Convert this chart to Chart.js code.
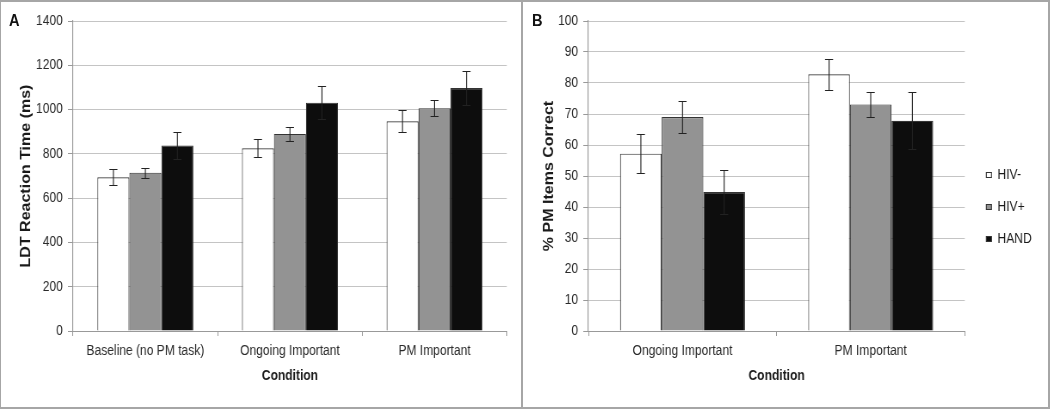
<!DOCTYPE html>
<html lang="en">
<head>
<meta charset="UTF-8">
<title>LDT reaction time and PM accuracy</title>
<script src="https://cdn.jsdelivr.net/npm/chart.js"></script>
<style>
  body { margin: 0; background: #fff; }
  #wrap { position: relative; width: 1050px; height: 409px; overflow: hidden; background: #fff; }
  /* charts are drawn wider and squeezed to the narrow look of the original */
  canvas { position: absolute; top: 0; }
  #cA { left: 0; }
  #cB { left: 523px; }
  .frame { position: absolute; left: 0; top: 0; width: 1050px; height: 409px; border: 2px solid #a6a6a6; border-left-width: 1px; box-sizing: border-box; pointer-events: none; }
  .divider { position: absolute; left: 521px; top: 0; width: 2px; height: 409px; background: #a6a6a6; }
  .tag { position: absolute; top: 10.5px; line-height: 17px; font: bold 17px "Liberation Sans", Arial, sans-serif; color: #111; transform: scaleX(0.86); transform-origin: left top; }
</style>
</head>
<body>
<div id="wrap">
  <canvas id="cA" width="606" height="409" style="width:521px;height:409px"></canvas>
  <canvas id="cB" width="610" height="409" style="width:525px;height:409px"></canvas>
  <div class="tag" style="left:9px">A</div>
  <div class="tag" style="left:532px">B</div>
  <div class="divider"></div>
  <div class="frame"></div>
</div>

<script>
  // panel A: LDT reaction time (ms)
  const conditionsA = ['Baseline (no PM task)', 'Ongoing Important', 'PM Important'];
  const hivNegA = [694, 825, 947];
  const hivNegErrA = [36, 40, 49];
  const hivPosA = [715, 890, 1006];
  const hivPosErrA = [22, 30, 36];
  const handA = [838, 1031, 1097];
  const handErrA = [61, 75, 78];

  // panel B: % PM items correct
  const conditionsB = ['Ongoing Important', 'PM Important'];
  const hivNegB = [57.2, 82.8];
  const hivNegErrB = [6.2, 5.1];
  const hivPosB = [69.0, 73.1];
  const hivPosErrB = [5.2, 4.1];
  const handB = [44.8, 67.8];
  const handErrB = [7.0, 9.2];

  const groups = ['HIV-', 'HIV+', 'HAND'];
  const fills = ['#ffffff', '#939393', '#0d0d0d'];

  const sans = '"Liberation Sans", Arial, sans-serif';

  // error bars drawn from the y scale
  const errorBars = {
    id: 'errorBars',
    afterDatasetsDraw(chart) {
      const { ctx } = chart;
      const y = chart.scales.y;
      ctx.save();
      ctx.strokeStyle = '#222';
      ctx.lineWidth = 1.1;
      chart.data.datasets.forEach((ds, i) => {
        const meta = chart.getDatasetMeta(i);
        meta.data.forEach((bar, j) => {
          const v = ds.data[j], e = ds.errors[j];
          const top = Math.round(y.getPixelForValue(v + e)) + 0.5;
          const bot = Math.round(y.getPixelForValue(v - e)) + 0.5;
          const x = bar.x;
          ctx.beginPath();
          ctx.moveTo(x, top); ctx.lineTo(x, bot);
          ctx.moveTo(x - 4.7, top); ctx.lineTo(x + 4.7, top);
          ctx.moveTo(x - 4.7, bot); ctx.lineTo(x + 4.7, bot);
          ctx.stroke();
        });
      });
      ctx.restore();
    }
  };

  function makeDatasets(values, errors) {
    return values.map((vals, i) => ({
      label: groups[i],
      data: vals,
      errors: errors[i],
      backgroundColor: fills[i],
      borderColor: '#333',
      borderWidth: 1.1,
      barPercentage: 1,
      categoryPercentage: 0.664
    }));
  }

  function makeOptions(cfg) {
    const scales = {
      x: {
        offset: true,
        afterFit(scale) { scale.height = cfg.xHeight; },
        grid: { display: true, offset: true, drawOnChartArea: false, drawTicks: true, tickLength: 5, tickColor: '#999' },
        border: { display: true, color: '#999', width: 1 },
        ticks: { color: '#2a2a2a', padding: 6.6, maxRotation: 0, autoSkip: false, font: { family: sans, size: 14 } },
        title: {
          display: true, text: 'Condition', color: '#1a1a1a',
          font: { family: sans, size: 14, weight: 'bold' },
          padding: { top: 0, bottom: cfg.xTitlePad }
        }
      },
      y: {
        min: 0, max: cfg.yMax,
        afterFit(scale) { scale.width = cfg.yWidth; },
        grid: { color: '#c4c4c4', tickLength: 6, tickColor: '#999' },
        border: { display: true, color: '#999', width: 1.1 },
        ticks: { stepSize: cfg.step, color: '#2a2a2a', padding: 6, font: { family: sans, size: 14 }, callback: v => String(v) },
        title: {
          display: true, text: cfg.yTitle, color: '#1a1a1a',
          font: { family: sans, size: 16, weight: 'bold' },
          padding: { top: cfg.yTitlePad, bottom: 0 }
        }
      }
    };
    if (cfg.legendGap) {
      // empty right-hand axis, only used as a gap before the legend
      scales.gap = {
        type: 'linear', position: 'right',
        afterFit(scale) { scale.width = cfg.legendGap; },
        grid: { display: false },
        border: { display: false },
        ticks: { display: false }
      };
    }
    return {
      responsive: false,
      animation: false,
      layout: { padding: cfg.padding },
      plugins: {
        legend: cfg.legend,
        tooltip: { enabled: false }
      },
      scales
    };
  }

  new Chart(document.getElementById('cA'), {
    type: 'bar',
    data: {
      labels: conditionsA,
      datasets: makeDatasets([hivNegA, hivPosA, handA], [hivNegErrA, hivPosErrA, handErrA])
    },
    options: makeOptions({
      padding: { top: 21, right: 16.5, bottom: 0, left: 0 },
      legend: { display: false },
      xHeight: 78, xTitlePad: 24.1,
      yWidth: 85, yTitlePad: 21.4,
      yMax: 1400, step: 200,
      yTitle: 'LDT Reaction Time (ms)'
    }),
    plugins: [errorBars]
  });

  new Chart(document.getElementById('cB'), {
    type: 'bar',
    data: {
      labels: conditionsB,
      datasets: makeDatasets([hivNegB, hivPosB, handB], [hivNegErrB, hivPosErrB, handErrB])
    },
    options: makeOptions({
      padding: { top: 21, right: 9, bottom: 16, left: 0 },
      legend: {
        display: true, position: 'right',
        labels: { boxWidth: 6, boxHeight: 5, padding: 18, color: '#1a1a1a', font: { family: sans, size: 14 } }
      },
      legendGap: 7,
      xHeight: 62, xTitlePad: 8.1,
      yWidth: 76, yTitlePad: 21,
      yMax: 100, step: 10,
      yTitle: '% PM Items Correct'
    }),
    plugins: [errorBars]
  });
</script>
</body>
</html>
